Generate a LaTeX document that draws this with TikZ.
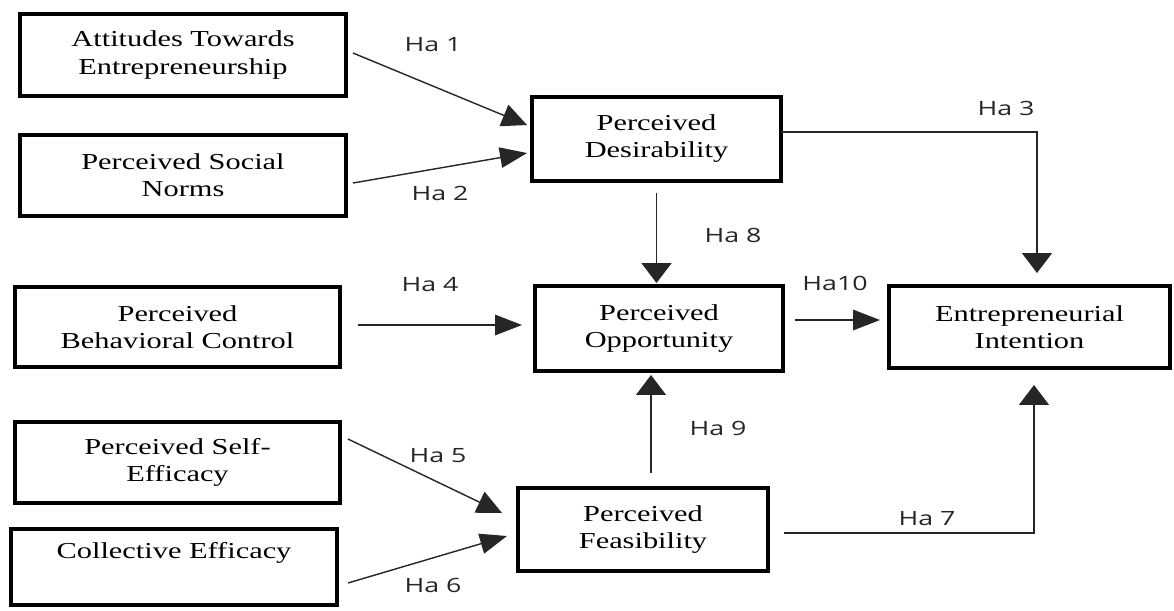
\documentclass[tikz,border=0pt]{standalone}
\usepackage{fontspec}
\setmainfont{Liberation Serif}[FakeStretch=1.33]
\newfontfamily\hafont{Open Sans}[FakeStretch=1.36]
\usetikzlibrary{arrows.meta,calc}
\begin{document}
\begin{tikzpicture}[x=0.02cm,y=-0.02cm,
  box/.style={draw=black, line width=2.2pt, inner sep=0pt, outer sep=0pt, align=center,
    font=\fontsize{13}{15.4}\selectfont},
  lab/.style={font=\hafont\fontsize{11.2}{12}\selectfont, text=black!85, inner sep=0pt},
  conn/.style={line width=0.8pt, draw=black!85},
  arrV/.style={conn, -{Triangle[length=0.4cm,width=0.6cm]}},
  arrH/.style={conn, -{Triangle[length=0.54cm,width=0.41cm]}},
  arrD/.style={conn, -{Triangle[length=0.5cm,width=0.46cm]}}
]
\fill[white] (0,0) rectangle (1174,610);
\useasboundingbox (0,0) rectangle (1174,610);

% boxes
\node[box, minimum width=6.52cm, minimum height=1.64cm] (att) at (183,55) {Attitudes Towards\\Entrepreneurship};
\node[box, minimum width=6.52cm, minimum height=1.62cm] (soc) at (183,175.5) {Perceived Social\\Norms};
\node[box, minimum width=4.98cm, minimum height=1.68cm] (des) at (656.5,139) {Perceived\\Desirability};
\node[box, minimum width=4.96cm, minimum height=1.70cm] (opp) at (659,328.5) {Perceived\\Opportunity};
\node[box, minimum width=5.62cm, minimum height=1.64cm] (ei) at (1029.5,327) {Entrepreneurial\\Intention};
\node[box, minimum width=6.50cm, minimum height=1.60cm] (beh) at (177.5,327) {Perceived\\Behavioral Control};
\node[box, minimum width=6.50cm, minimum height=1.62cm] (self) at (177.5,462.5) {Perceived Self-\\Efficacy};
\node[box, minimum width=6.52cm, minimum height=1.52cm] (col) at (174,567) {\strut Collective Efficacy\\\strut};
\node[box, minimum width=5.00cm, minimum height=1.66cm] (fea) at (643,529.5) {Perceived\\Feasibility};

% connectors
\draw[arrD] ($(att.east)+(7,-2)$) -- ($(des.west)+(-5,-14)$);
\draw[arrH] ($(soc.east)+(7,7.5)$) -- ($(des.west)+(-5,14)$);
\draw[arrV] ($(des.east)+(0,-7)$) -| ($(ei.north)+(7.5,-13)$);
\draw[arrV] ($(des.south)+(0,12)$) -- ($(des.south |- opp.north)+(0,-3)$);
\draw[arrH] ($(beh.east)+(18,-2)$) -- ($(opp.west |- beh.east)+(-13,-2)$);
\draw[arrH] ($(opp.east)+(12,-8.5)$) -- ($(ei.west)+(-9,-7)$);
\draw[arrV] ($(fea.north)+(8,-15)$) -- ($(opp.south)+(-8,4)$);
\draw[arrD] ($(self.east)+(8,-23.5)$) -- ($(fea.west)+(-16,-16.5)$);
\draw[arrH] ($(col.east)+(11,16)$) -- ($(fea.west)+(-11,6.5)$);
\draw[arrV] ($(fea.east)+(16,3.5)$) -| ($(ei.south)+(4.5,17)$);

% labels
\node[lab] (l1) at (433,45) {Ha 1};
\node[lab] (l2) at (440,193) {Ha 2};
\node[lab] (l3) at (1006,108) {Ha 3};
\node[lab] (l8) at (733,235) {Ha 8};
\node[lab] (l10) at (835,283) {Ha10};
\node[lab] (l4) at (430,285) {Ha 4};
\node[lab] (l9) at (718,428) {Ha 9};
\node[lab] (l5) at (438,456) {Ha 5};
\node[lab] (l6) at (433,585) {Ha 6};
\node[lab] (l7) at (927,519) {Ha 7};
\end{tikzpicture}
\end{document}
